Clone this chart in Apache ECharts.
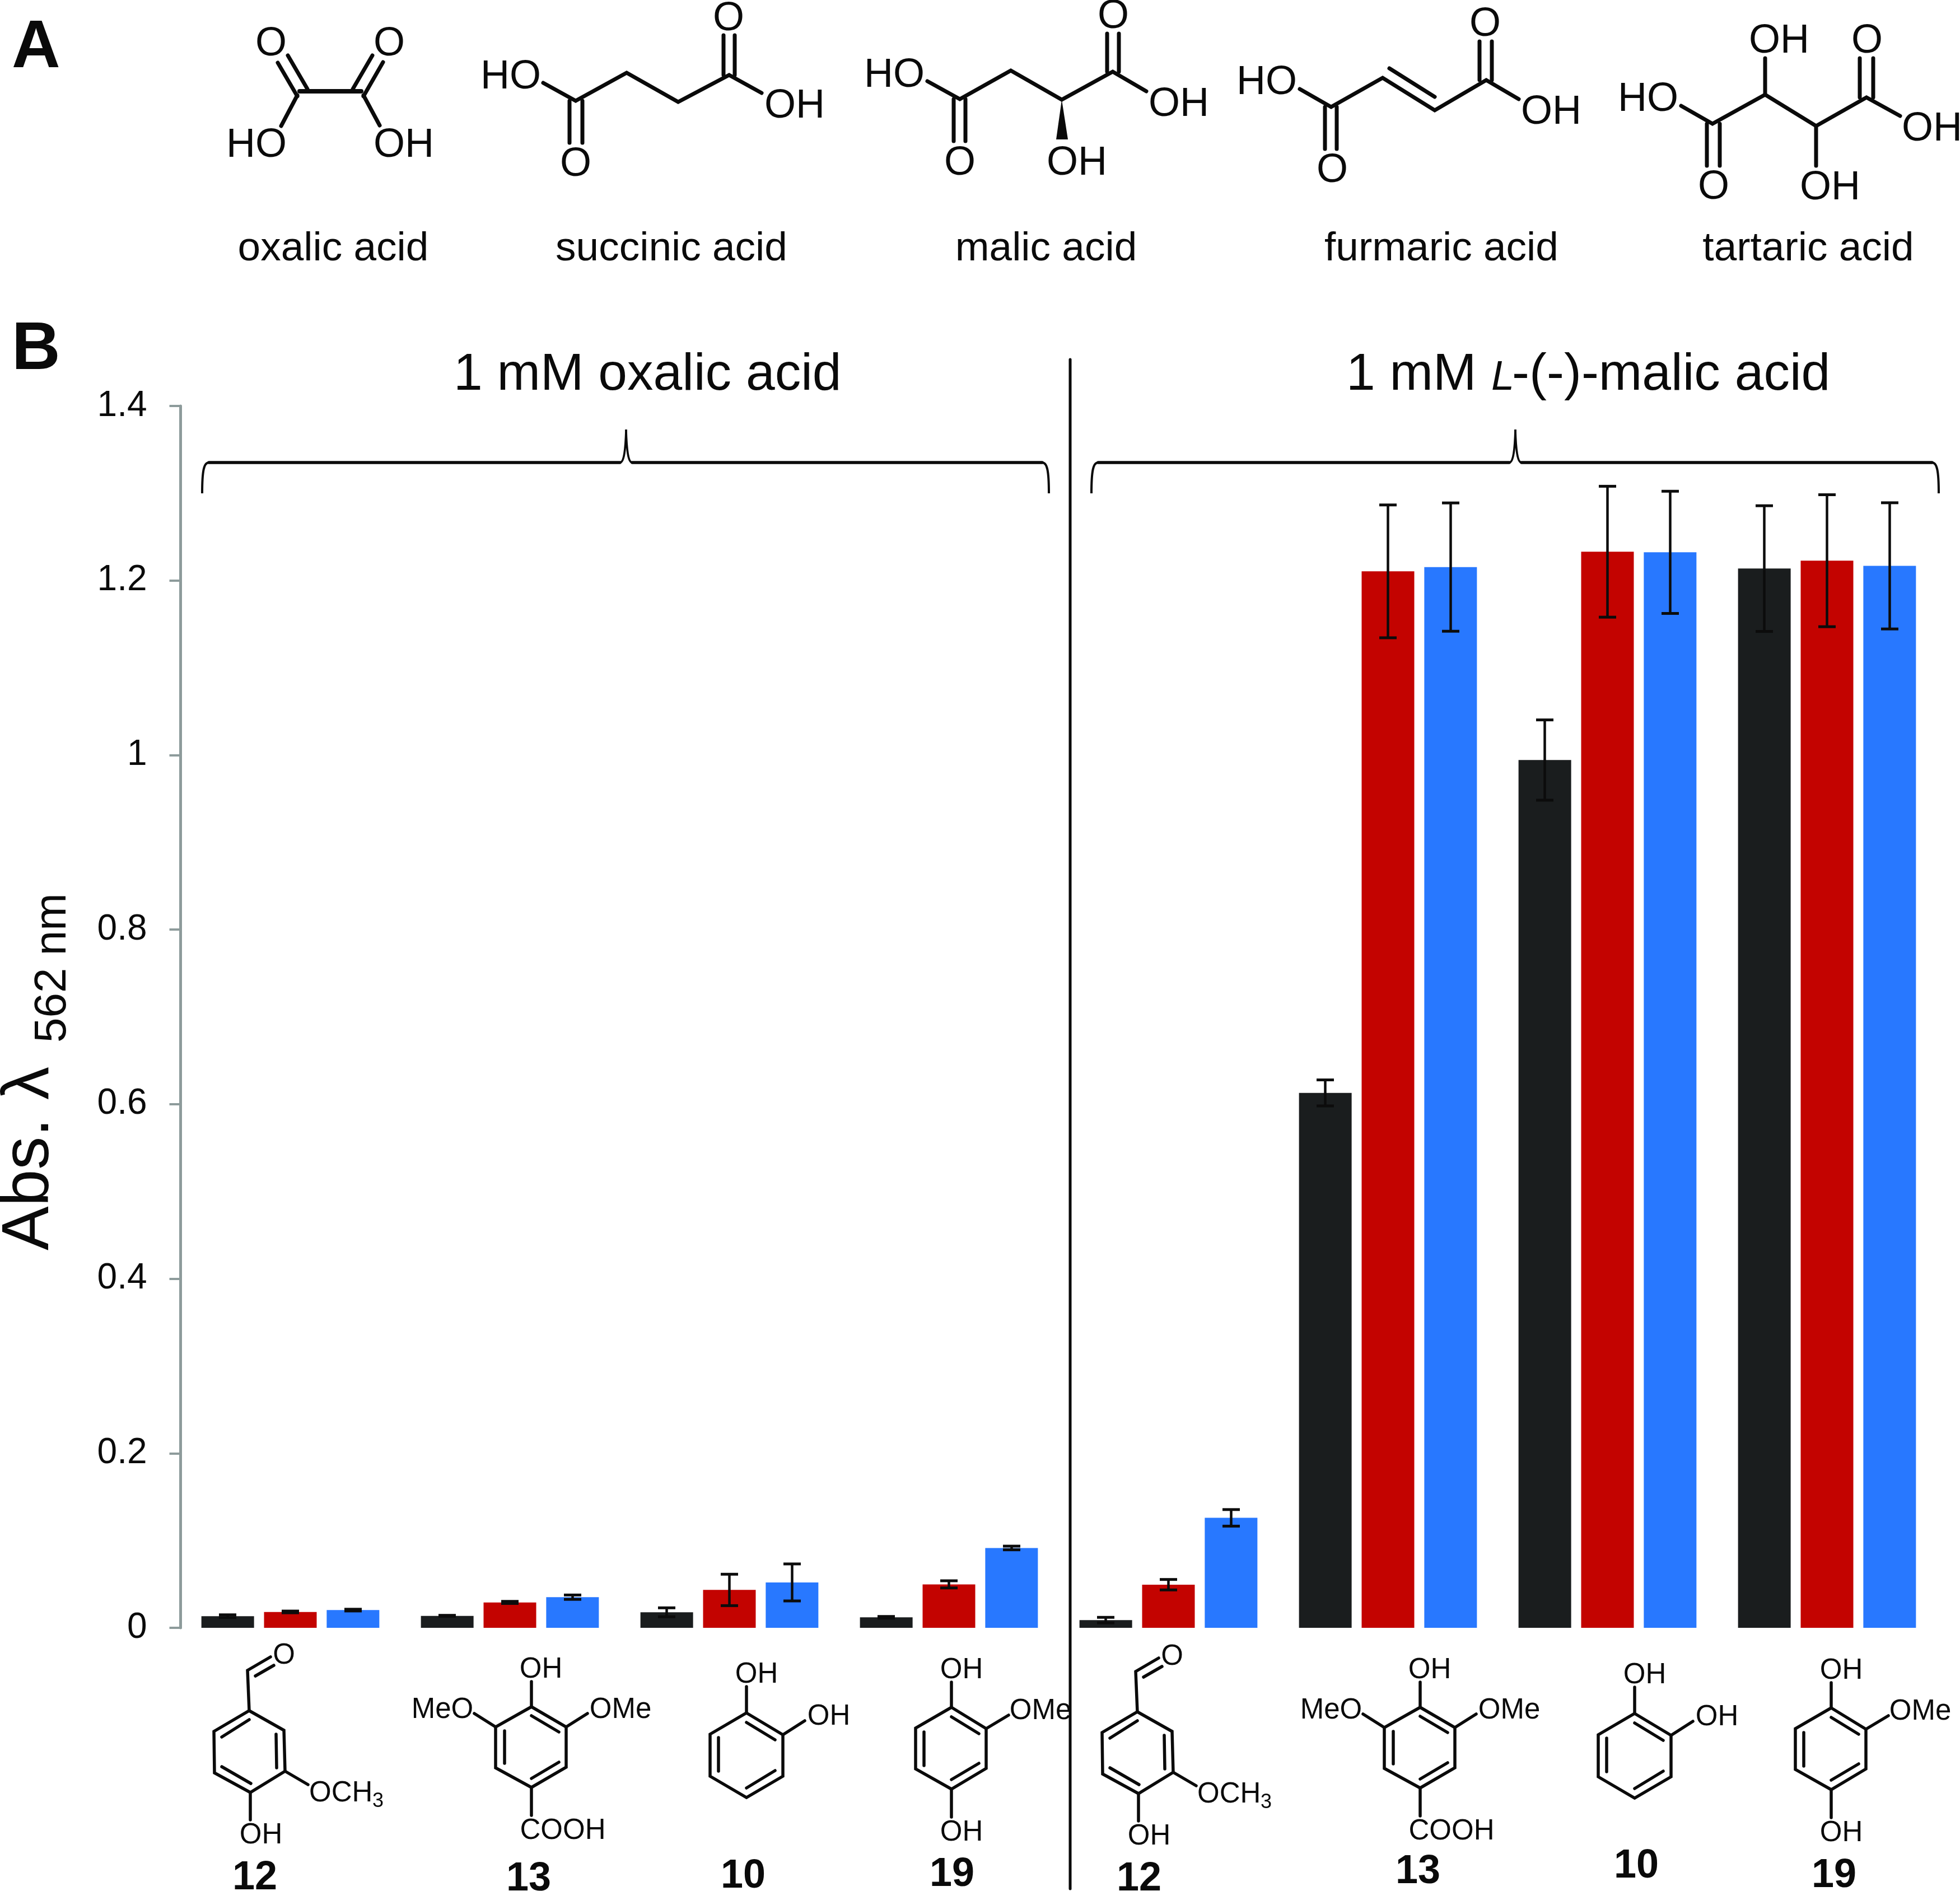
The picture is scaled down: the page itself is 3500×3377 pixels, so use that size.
<!DOCTYPE html>
<html>
<head>
<meta charset="utf-8">
<style>html,body{margin:0;padding:0;background:#fff}#c{width:3500px;height:3377px}</style>
<script src="https://cdn.jsdelivr.net/npm/echarts@6/dist/echarts.min.js"></script>
</head>
<body>
<div id="c"></div>
<script>
// ---------- chart data ----------
const categories = ['12 (oxalic)','13 (oxalic)','10 (oxalic)','19 (oxalic)','12 (malic)','13 (malic)','10 (malic)','19 (malic)'];
const blackValues = [0.0133,0.0137,0.0178,0.0120,0.0088,0.6129,0.9943,1.2137];
const blackErrors = [0.0016,0.0006,0.0051,0.0010,0.0032,0.0149,0.0460,0.0720];
const redValues   = [0.0182,0.0291,0.0434,0.0498,0.0494,1.2105,1.2330,1.2227];
const redErrors   = [0.0010,0.0012,0.0180,0.0041,0.0060,0.0761,0.0750,0.0756];
const blueValues  = [0.0203,0.0351,0.0520,0.0915,0.1260,1.2154,1.2323,1.2168];
const blueErrors  = [0.0010,0.0025,0.0212,0.0021,0.0095,0.0735,0.0700,0.0723];
const yTicks = [0,0.2,0.4,0.6,0.8,1,1.2,1.4];

const FONT = '"Liberation Sans", Arial, sans-serif';
const INK = '#0a0a0a';
const COLORS = ['#1a1d1e','#c30300','#2878ff'];
const OFFSETS = [-112,0,112];

// ---------- drawing helpers for the annotation layer ----------
const G = [];
function text(t, x, y, size, opts){
  opts = opts || {};
  const nudge = size*0.07;
  const px = opts.rot ? x+nudge : x;
  const py = opts.rot ? y : y+nudge;
  G.push({type:'text', x:px, y:py, rotation:opts.rot||0, z:20, silent:true, style:{
    text:t, fill:INK, font:(opts.style?opts.style+' ':'')+(opts.weight?opts.weight+' ':'')+size+'px '+FONT,
    textAlign:opts.align||'center', textVerticalAlign:'middle', verticalAlign:'middle'
  }});
}
function base(t, x, baseline, size, opts){ text(t, x, baseline-0.3465*size, size, opts); }
function seg(a, w, d){
  d = d||[0,0];
  G.push({type:'line', z:20, silent:true, shape:{x1:a[0]+d[0],y1:a[1]+d[1],x2:a[2]+d[0],y2:a[3]+d[1]},
    style:{stroke:INK,lineWidth:w,lineCap:'round'}});
}
function chain(p, w, d){
  d = d||[0,0];
  G.push({type:'polyline', z:20, silent:true, shape:{points:p.map(q=>[q[0]+d[0],q[1]+d[1]])},
    style:{stroke:INK,fill:null,lineWidth:w,lineJoin:'miter',lineCap:'round'}});
}
function ring(p, w, d){
  d = d||[0,0];
  G.push({type:'polygon', z:20, silent:true, shape:{points:p.map(q=>[q[0]+d[0],q[1]+d[1]])},
    style:{stroke:INK,fill:null,lineWidth:w,lineJoin:'miter'}});
}
function brace(x0,x1,peak,yTop,yBar,yEnd){
  const c=(sx,sy,a,b,ex,ey,w)=>G.push({type:'bezierCurve',z:20,silent:true,
    shape:{x1:sx,y1:sy,cpx1:a[0],cpy1:a[1],cpx2:b[0],cpy2:b[1],x2:ex,y2:ey},
    style:{stroke:INK,fill:null,lineWidth:w}});
  c(x0,yEnd,[x0,yEnd-40],[x0+3,yBar],x0+12,yBar,4);
  c(x1,yEnd,[x1,yEnd-40],[x1-3,yBar],x1-12,yBar,4);
  c(peak-11,yBar,[peak-3,yBar],[peak-1,yBar-26],peak,yTop,3.5);
  c(peak+11,yBar,[peak+3,yBar],[peak+1,yBar-26],peak,yTop,3.5);
  seg([x0+12,yBar,peak-11,yBar],5.5);
  seg([peak+11,yBar,x1-12,yBar],5.5);
}

// ---------- panel A ----------
const TW = 7, TS = 72, NAME = 73;
base('A',21,120,120,{align:'left',weight:'bold'});
base('B',21,659,120,{align:'left',weight:'bold'});

// oxalic
seg([535,163,645,163],8);
chain([[531,170],[502,225]],TW); seg([496,112,531,172],TW); seg([514,99,549,159],TW);
chain([[649,170],[678,224]],TW); seg([665,99,630,159],TW); seg([684,111,649,172],TW);
text('O',484,74,TS); text('O',695,74,TS); text('HO',458,255,TS); text('OH',721,255,TS);

// succinic
chain([[970,148],[1028,180],[1119,130],[1211,182],[1302,134],[1360,166]],TW);
seg([1017,180,1017,255],TW); seg([1040,180,1040,255],TW);
seg([1292,134,1292,63],TW); seg([1312,134,1312,63],TW);
text('HO',912,133,TS); text('O',1028,289,TS); text('O',1301,29,TS); text('OH',1419,185,TS);

// malic
chain([[1656,145],[1714,177],[1805,126],[1896,178],[1987,128],[2047,163]],TW);
seg([1703,177,1703,252],TW); seg([1724,177,1724,252],TW);
seg([1977,128,1977,60],TW); seg([1998,128,1998,60],TW);
G.push({type:'polygon',z:20,silent:true,shape:{points:[[1896,178],[1907,249],[1886,249]]},style:{fill:INK}});
text('HO',1597,130,TS); text('OH',2105,182,TS); text('O',1988,25,TS); text('O',1714,287,TS); text('OH',1923,287,TS);

// fumaric
chain([[2321,159],[2377,191],[2469,139],[2562,197],[2654,143],[2712,177]],TW);
seg([2481,122,2562,173],TW);
seg([2642,143,2642,74],TW); seg([2664,143,2664,74],TW);
seg([2366,191,2366,266],TW); seg([2387,191,2387,266],TW);
text('HO',2262,143,TS); text('OH',2770,196,TS); text('O',2652,39,TS); text('O',2379,300,TS);

// tartaric
chain([[3002,189],[3058,221],[3152,169],[3243,225],[3333,174],[3393,207]],TW);
seg([3152,169,3152,104],TW); seg([3243,225,3243,296],TW);
seg([3321,174,3321,104],TW); seg([3345,174,3345,104],TW);
seg([3048,221,3048,296],TW); seg([3071,221,3071,296],TW);
text('HO',2943,173,TS); text('OH',3450,226,TS); text('OH',3177,69,TS); text('O',3334,69,TS); text('OH',3268,331,TS); text('O',3060,330,TS);

['oxalic acid','succinic acid','malic acid','furmaric acid','tartaric acid'].forEach((t,i)=>{
  base(t,[595,1199,1868,2574,3229][i],465,NAME);
});

// ---------- panel B annotations ----------
base('1 mM oxalic acid',810,696,93,{align:'left'});
base('1 mM',2404,696,93,{align:'left'});
base('L',2663,696,74,{align:'left',style:'italic'});
base('-(-)-malic acid',2700,696,93,{align:'left'});
brace(361,1873,1118,767,826,881);
brace(1949,3462,2706,767,826,881);
seg([1911,642,1911,3373],5);

const rot90 = Math.PI/2;
text('Abs. λ',86-0.3465*118,2233,118,{align:'left',rot:rot90});
text('562 nm',117-0.3465*80,1862,80,{align:'left',rot:rot90});

// ---------- compound structures beneath the bars ----------
const BW = 5.5, BS = 51, NS = 72;
function vanillin(d){
  ring([[445,3055],[507,3090],[509,3163],[447,3201],[383,3166],[382,3092]],BW,d);
  seg([445,3071,396,3102],BW,d); seg([493,3097,494,3157],BW,d); seg([396,3155,448,3185],BW,d);
  chain([[445,3055],[442,2983],[483,2959]],BW,d); seg([456,2993,489,2974],BW,d);
  seg([509,3163,550,3187],BW,d); seg([447,3201,447,3250],BW,d);
  text('O',507+d[0],2953+d[1],BS);
  text('OCH',552+d[0],3199+d[1],BS,{align:'left'});
  text('3',675+d[0],3215+d[1],36);
  text('OH',466+d[0],3274+d[1],BS);
}
function syringic(d){
  ring([[949,3048],[1011,3084],[1011,3156],[949,3192],[885,3157],[885,3084]],BW,d);
  seg([949,3064,998,3093],BW,d); seg([901,3091,901,3149],BW,d); seg([949,3176,998,3147],BW,d);
  seg([949,3048,949,3003],BW,d); seg([847,3060,885,3084],BW,d); seg([1049,3060,1011,3084],BW,d); seg([949,3192,949,3242],BW,d);
  text('OH',966+d[0],2978+d[1],BS); text('MeO',790+d[0],3050+d[1],BS); text('OMe',1108+d[0],3050+d[1],BS); text('COOH',1005+d[0],3266+d[1],BS);
}
function catechol(d){
  ring([[1333,3059],[1398,3098],[1398,3172],[1333,3210],[1268,3172],[1268,3097]],BW,d);
  seg([1333,3076,1384,3107],BW,d); seg([1283,3103,1283,3163],BW,d); seg([1333,3193,1384,3162],BW,d);
  seg([1333,3059,1333,3012],BW,d); seg([1398,3098,1437,3073],BW,d);
  text('OH',1351+d[0],2987+d[1],BS); text('OH',1480+d[0],3062+d[1],BS);
}
function methoxyhq(d){
  ring([[1699,3049],[1761,3087],[1761,3158],[1699,3195],[1635,3159],[1635,3086]],BW,d);
  seg([1699,3066,1748,3096],BW,d); seg([1650,3093,1650,3153],BW,d); seg([1699,3178,1748,3149],BW,d);
  seg([1699,3049,1699,3004],BW,d); seg([1761,3087,1801,3063],BW,d); seg([1699,3195,1699,3245],BW,d);
  text('OH',1717+d[0],2979+d[1],BS); text('OMe',1858+d[0],3052+d[1],BS); text('OH',1717+d[0],3269+d[1],BS);
}
vanillin([0,0]); syringic([0,0]); catechol([0,0]); methoxyhq([0,0]);
vanillin([1586,2]); syringic([1587,1]); catechol([1586,1]); methoxyhq([1571,1]);

const compoundLabels = ['12','13','10','19','12','13','10','19'];
const compoundLabelX = [455,944,1327,1700,2034,2532,2922,3275];
const compoundLabelY = [3349,3351,3346,3343,3351,3338,3328,3345];
compoundLabels.forEach((t,i)=>text(t,compoundLabelX[i],compoundLabelY[i],NS,{weight:'bold'}));

// ---------- series ----------
function barSeries(name, values, color){
  return {name:name,type:'bar',data:values,barWidth:94,barGap:'19%',itemStyle:{color:color},animation:false,z:2};
}
function errorSeries(values, errors, idx){
  return {
    type:'custom', animation:false, silent:true, z:5, clip:false,
    encode:{x:0,y:[1,2]},
    data:values.map((v,i)=>[i,v-errors[i],v+errors[i]]),
    renderItem:function(params,api){
      const band = api.size([1,0])[0];
      const dx = OFFSETS[idx]*band/392;
      const lo = api.coord([api.value(0),api.value(1)]);
      const hi = api.coord([api.value(0),api.value(2)]);
      const x = lo[0]+dx, cap = 15.5;
      const st = {stroke:'#0c0c0c',lineWidth:5,fill:null};
      return {type:'group',children:[
        {type:'line',shape:{x1:x,y1:lo[1],x2:x,y2:hi[1]},style:{stroke:'#0c0c0c',lineWidth:4.5}},
        {type:'line',shape:{x1:x-cap,y1:lo[1],x2:x+cap,y2:lo[1]},style:st},
        {type:'line',shape:{x1:x-cap,y1:hi[1],x2:x+cap,y2:hi[1]},style:st}
      ]};
    }
  };
}

const chart = echarts.init(document.getElementById('c'),null,{renderer:'canvas'});
chart.setOption({
  animation:false,
  backgroundColor:'#ffffff',
  grid:{left:322.5,top:725,width:3136,height:2182,containLabel:false},
  xAxis:{type:'category',data:categories,axisLine:{show:false},axisTick:{show:false},axisLabel:{show:false},splitLine:{show:false}},
  yAxis:{type:'value',min:0,max:yTicks[yTicks.length-1],interval:0.2,
    axisLine:{show:true,lineStyle:{color:'#8d9b9b',width:5}},
    axisTick:{show:true,length:20,lineStyle:{color:'#8d9b9b',width:4}},
    axisLabel:{fontSize:64,fontFamily:FONT,color:INK,margin:60,padding:[10,0,0,0],formatter:v=>String(Math.round(v*10)/10)},
    splitLine:{show:false}},
  series:[
    barSeries('black',blackValues,COLORS[0]),
    barSeries('red',redValues,COLORS[1]),
    barSeries('blue',blueValues,COLORS[2]),
    errorSeries(blackValues,blackErrors,0),
    errorSeries(redValues,redErrors,1),
    errorSeries(blueValues,blueErrors,2)
  ],
  graphic:{elements:G}
});
</script>
</body>
</html>
